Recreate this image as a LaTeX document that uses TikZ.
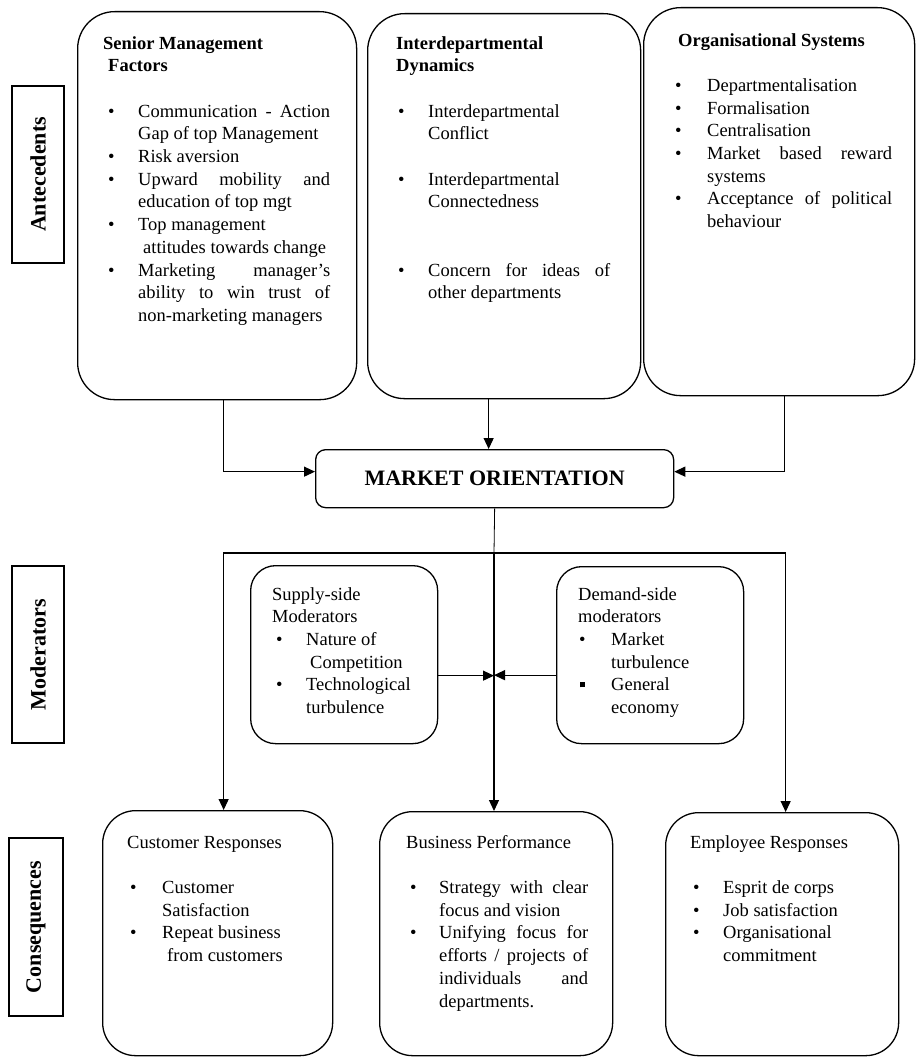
\documentclass[tikz,border=0pt]{standalone}
\usepackage{fontspec}
\setmainfont{Liberation Serif}
\usetikzlibrary{arrows.meta,calc}
\newcommand{\itm}[2]{\par\hangindent=#2\hangafter=1\noindent\makebox[#2][l]{\hspace*{#1}\textbullet}}
\newcommand{\itmsq}[2]{\par\hangindent=#2\hangafter=1\noindent\makebox[#2][l]{\hspace*{#1}\raisebox{3.5pt}{\rule{5pt}{5pt}}}}
\newcommand{\gap}[1]{\par\vskip#1}
\tikzset{
  box/.style={draw, line width=1.3pt, inner sep=0pt, anchor=north west},
  side/.style={draw, line width=1.3pt, rotate=90, inner sep=0pt, font=\fontsize{22}{26}\selectfont\bfseries},
  txt/.style={anchor=north west, inner sep=0pt, align=justify, font=\fontsize{18.5}{22.7}\selectfont},
  arr/.style={line width=1.2pt, -{Triangle[length=11pt,width=10pt]}},
  ln/.style={line width=1.2pt}
}
\begin{document}
\begin{tikzpicture}[x=1pt,y=-1pt]
\useasboundingbox (0,0) rectangle (916,1057);
% side labels
\node[side, minimum width=177pt, minimum height=52pt] (ante) at (38,174.5) {Antecedents};
\node[side, minimum width=177pt, minimum height=52pt] (modl) at (38,654.5) {Moderators};
\node[side, minimum width=178pt, minimum height=54pt] (cons) at (36,927) {Consequences};
% antecedent boxes
\node[box, rounded corners=37pt, minimum width=279pt, minimum height=388pt] (b1) at (77,11) {};
\node[box, rounded corners=37pt, minimum width=273pt, minimum height=385pt] (b2) at (367,13) {};
\node[box, rounded corners=37pt, minimum width=271pt, minimum height=388pt] (b3) at (643,7) {};
\node[txt, text width=227pt] (t1) at (103,33) {\strut\textbf{Senior Management}\\\textbf{\hspace*{5pt}Factors}
\gap{22.7pt}
\itm{5pt}{35pt}Communication - Action\linebreak Gap of top Management
\itm{5pt}{35pt}Risk aversion
\itm{5pt}{35pt}Upward mobility and\linebreak education of top mgt
\itm{5pt}{35pt}Top management\newline\hspace*{5pt}attitudes towards change
\itm{5pt}{35pt}Marketing manager's\linebreak ability to win trust of\linebreak non-marketing managers\par};
\node[txt, text width=214pt] (t2) at (396,33) {\strut\textbf{Interdepartmental}\\\textbf{Dynamics}
\gap{22.7pt}
\itm{2pt}{32pt}Interdepartmental\newline Conflict
\gap{22.7pt}
\itm{2pt}{32pt}Interdepartmental\newline Connectedness
\gap{45.4pt}
\itm{2pt}{32pt}Concern for ideas of\linebreak other departments\par};
\node[txt, text width=217pt] (t3) at (675,30) {\strut\textbf{\hspace*{3pt}Organisational Systems}
\gap{22.7pt}
\itm{0pt}{32pt}Departmentalisation
\itm{0pt}{32pt}Formalisation
\itm{0pt}{32pt}Centralisation
\itm{0pt}{32pt}Market based reward\linebreak systems
\itm{0pt}{32pt}Acceptance of political\linebreak behaviour\par};
% market orientation
\node[box, rounded corners=10pt, minimum width=358pt, minimum height=58pt] (mo) at (315,449) {};
\node[inner sep=0pt, font=\fontsize{22}{26}\selectfont\bfseries] (motxt) at (mo.center) {MARKET ORIENTATION};
% moderators
\node[box, rounded corners=25pt, minimum width=187pt, minimum height=178pt] (sup) at (250,565) {};
\node[box, rounded corners=25pt, minimum width=187pt, minimum height=177pt] (dem) at (556,566) {};
\node[txt, text width=150pt] (tsup) at (272,584) {\strut Supply-side\\Moderators
\itm{4pt}{34pt}Nature of\newline\hspace*{4pt}Competition
\itm{4pt}{34pt}Technological\newline turbulence\par};
\node[txt, text width=150pt] (tdem) at (578,584) {\strut Demand-side\\moderators
\itm{1pt}{33pt}Market\newline turbulence
\itmsq{2pt}{33pt}General\newline economy\par};
% consequences
\node[box, rounded corners=33pt, minimum width=230pt, minimum height=245pt] (cust) at (102,810) {};
\node[box, rounded corners=33pt, minimum width=233pt, minimum height=244pt] (bus) at (379,811) {};
\node[box, rounded corners=33pt, minimum width=233pt, minimum height=243pt] (emp) at (665,812) {};
\node[txt, text width=190pt] (tcust) at (127,832) {\strut Customer Responses
\gap{22.7pt}
\itm{3pt}{35pt}Customer\newline Satisfaction
\itm{3pt}{35pt}Repeat business\newline\hspace*{5pt}from customers\par};
\node[txt, text width=182pt] (tbus) at (406,832) {\strut Business Performance
\gap{22.7pt}
\itm{4pt}{33pt}Strategy with clear\linebreak focus and vision
\itm{4pt}{33pt}Unifying focus for\linebreak efforts / projects of\linebreak individuals and\linebreak departments.\par};
\node[txt, text width=200pt] (temp) at (690,832) {\strut Employee Responses
\gap{22.7pt}
\itm{3pt}{33pt}Esprit de corps
\itm{3pt}{33pt}Job satisfaction
\itm{3pt}{33pt}Organisational\newline commitment\par};
% connectors: antecedents -> MO
\draw[arr] ([xshift=6.5pt]b1.south) |- ([yshift=7pt]mo.west);
\draw[arr] ([xshift=-15.5pt]b2.south) -- ([xshift=-15.5pt]b2.south |- mo.north);
\draw[arr] ([xshift=5pt]b3.south) |- ([yshift=7pt]mo.east);
% MO -> consequences
\coordinate (split) at (494,553);
\draw[line width=0.8pt] (mo.south) -- (split);
\draw[arr] (split) -| ([xshift=6pt]cust.north);
\draw[arr] (split) -| ([xshift=3.5pt]emp.north);
\draw[arr] (split) -- (split |- bus.north);
% moderators
\draw[arr] ([yshift=-21pt]sup.east) -- ([yshift=-21pt]sup.east -| split);
\draw[arr] ([yshift=-20pt]dem.west) -- ([yshift=-20pt]dem.west -| split);
\end{tikzpicture}
\end{document}
